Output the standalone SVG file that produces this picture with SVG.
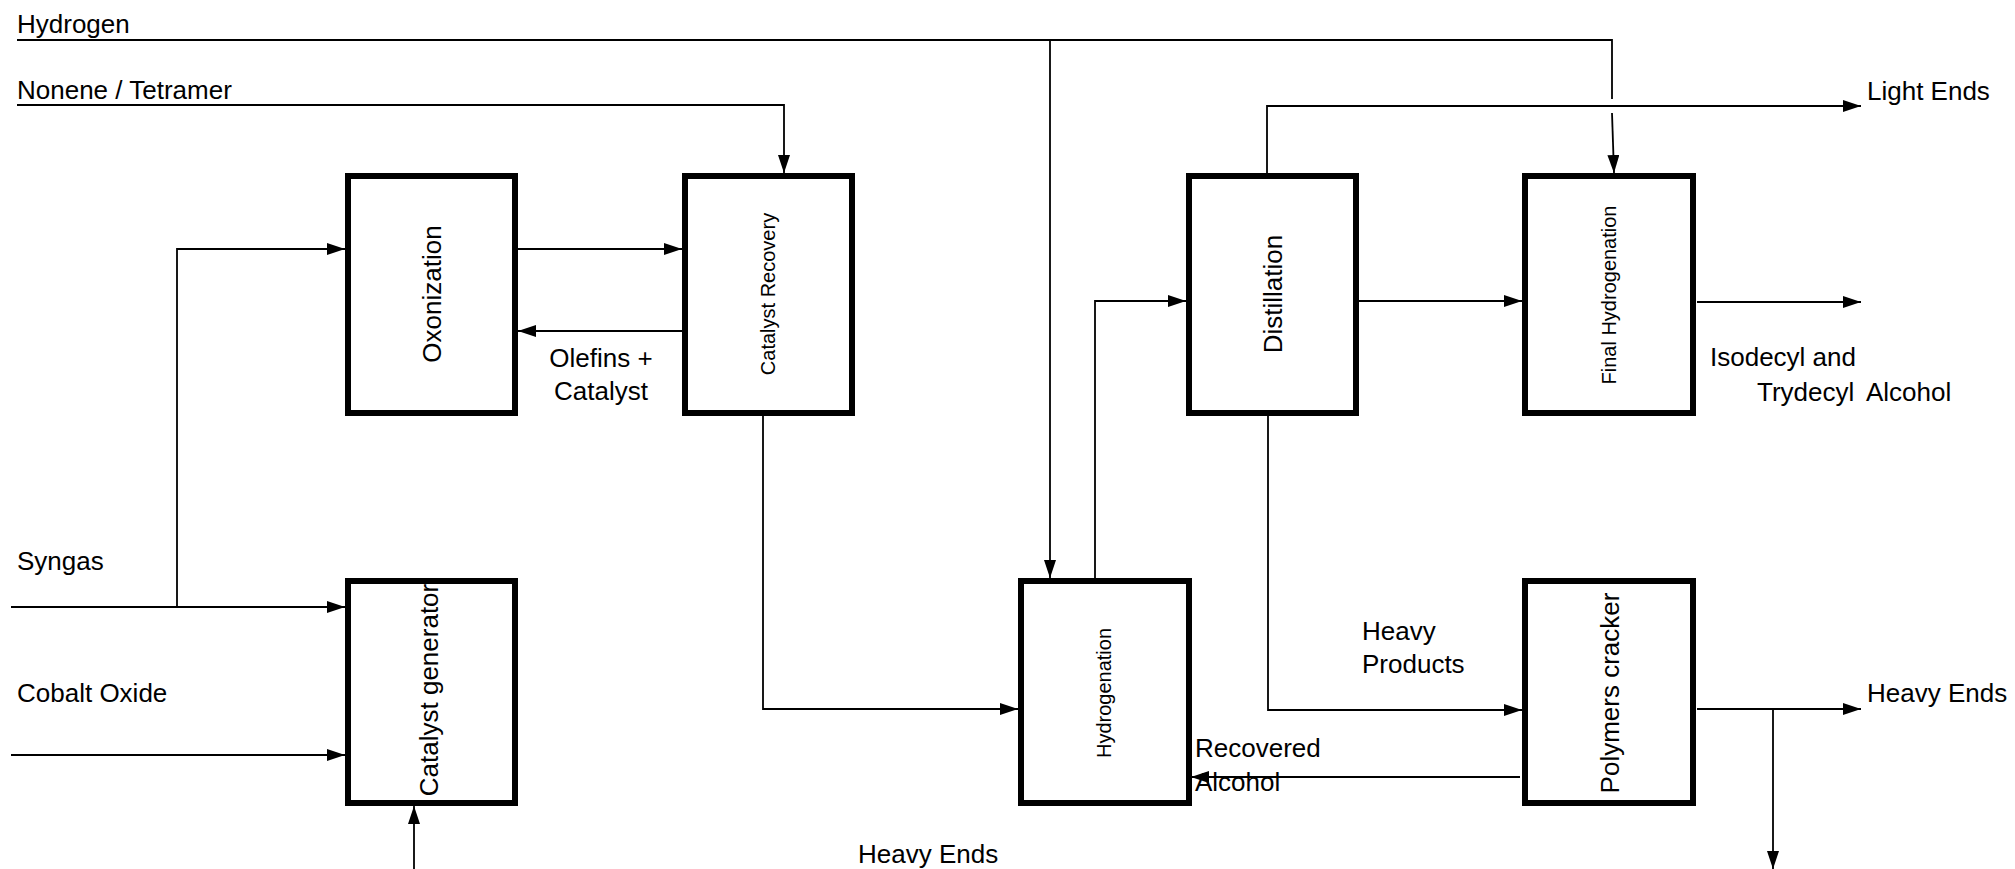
<svg xmlns="http://www.w3.org/2000/svg" width="2015" height="869" viewBox="0 0 2015 869">
<style>
.box{fill:#fff;stroke:#000;stroke-width:6}
.lbl{font-family:"Liberation Sans",Arial,sans-serif;font-size:26px;fill:#000}
.vt{font-family:"Liberation Sans",Arial,sans-serif;fill:#000;text-anchor:middle;dominant-baseline:central}
.ln{fill:none;stroke:#000;stroke-width:1.8}
.arr{marker-end:url(#ah)}
</style>
<defs>
<marker id="ah" markerUnits="userSpaceOnUse" markerWidth="18" markerHeight="12" refX="18" refY="6" orient="auto">
<path d="M0,0 L18,6 L0,12 z" fill="#000"/>
</marker>
</defs>
<rect width="2015" height="869" fill="#fff"/>

<g id="connectors">
<polyline class="ln" points="17,40 1612,40 1612,99"/>
<line class="ln arr" x1="1612" y1="113" x2="1614" y2="173"/>
<path class="ln arr" d="M1050,40 V578"/>
<path class="ln arr" d="M17,105 H784 V173"/>
<path class="ln arr" d="M11,607 H345"/>
<path class="ln arr" d="M177,607 V249 H345"/>
<path class="ln arr" d="M11,755 H345"/>
<path class="ln arr" d="M414,869 V806"/>
<path class="ln arr" d="M518,249 H682"/>
<path class="ln arr" d="M682,331 H518"/>
<path class="ln arr" d="M763,410 V709 H1018"/>
<path class="ln arr" d="M1095,578 V301 H1186"/>
<path class="ln arr" d="M1359,301 H1522"/>
<path class="ln arr" d="M1697,302 H1861"/>
<path class="ln arr" d="M1267,173 V106 H1861"/>
<path class="ln arr" d="M1268,416 V710 H1522"/>
<path class="ln arr" d="M1520,777 H1191"/>
<path class="ln arr" d="M1697,709 H1861"/>
<path class="ln arr" d="M1773,709 V869"/>
</g>

<g id="labels">
<text class="lbl" x="17" y="33">Hydrogen</text>
<text class="lbl" x="17" y="99">Nonene / Tetramer</text>
<text class="lbl" x="17" y="570">Syngas</text>
<text class="lbl" x="17" y="702">Cobalt Oxide</text>
<text class="lbl" x="601" y="367" text-anchor="middle">Olefins +</text>
<text class="lbl" x="601" y="400" text-anchor="middle">Catalyst</text>
<text class="lbl" x="1867" y="100">Light Ends</text>
<text class="lbl" x="1710" y="366">Isodecyl and</text>
<text class="lbl" x="1757" y="401">Trydecyl<tspan x="1866">Alcohol</tspan></text>
<text class="lbl" x="1362" y="640">Heavy</text>
<text class="lbl" x="1362" y="673">Products</text>
<text class="lbl" x="1867" y="702">Heavy Ends</text>
<text class="lbl" x="1195" y="757">Recovered</text>
<text class="lbl" x="1195" y="791">Alcohol</text>
<text class="lbl" x="858" y="863">Heavy Ends</text>
</g>

<g id="oxonization">
<rect class="box" x="348" y="176" width="167" height="237"/>
<text class="vt" font-size="26" transform="translate(432,294) rotate(-90)">Oxonization</text>
</g>
<g id="catalyst-recovery">
<rect class="box" x="685" y="176" width="167" height="237"/>
<text class="vt" font-size="20" transform="translate(768,294) rotate(-90)">Catalyst Recovery</text>
</g>
<g id="distillation">
<rect class="box" x="1189" y="176" width="167" height="237"/>
<text class="vt" font-size="26" transform="translate(1273,294) rotate(-90)">Distillation</text>
</g>
<g id="final-hydrogenation">
<rect class="box" x="1525" y="176" width="168" height="237"/>
<text class="vt" font-size="20" transform="translate(1609,295) rotate(-90)">Final Hydrogenation</text>
</g>
<g id="catalyst-generator">
<text class="vt" font-size="26" transform="translate(429,690) rotate(-90)">Catalyst generator</text>
<rect x="348" y="581" width="167" height="222" fill="none" stroke="#000" stroke-width="6"/>
</g>
<g id="hydrogenation">
<rect class="box" x="1021" y="581" width="168" height="222"/>
<text class="vt" font-size="20" transform="translate(1104,693) rotate(-90)">Hydrogenation</text>
</g>
<g id="polymers-cracker">
<rect class="box" x="1525" y="581" width="168" height="222"/>
<text class="vt" font-size="26" transform="translate(1610,693) rotate(-90)">Polymers cracker</text>
</g>
</svg>
